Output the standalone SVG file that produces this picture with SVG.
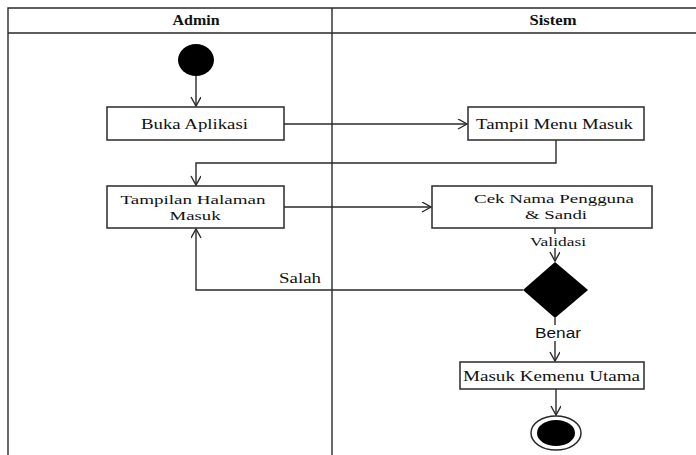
<svg xmlns="http://www.w3.org/2000/svg" width="696" height="455" viewBox="0 0 696 455">
<style>
.ln{fill:none;stroke:#2a2a2a;stroke-width:1.4}
.box{fill:#fff;stroke:#2a2a2a;stroke-width:1.5}
.t{font-family:"Liberation Serif","Times New Roman",serif;font-size:15px;fill:#111;text-anchor:middle}
.t2{font-size:13.5px}
.h{font-family:"Liberation Serif","Times New Roman",serif;font-size:14px;font-weight:bold;fill:#111;text-anchor:middle}
.s{font-family:"Liberation Sans",Arial,sans-serif;font-size:14px;fill:#111;text-anchor:middle}
</style>
<defs>
<marker id="ar" markerUnits="userSpaceOnUse" markerWidth="12" markerHeight="12" refX="10" refY="5" orient="auto">
<path d="M1,0 L10,5 L1,10" fill="none" stroke="#2a2a2a" stroke-width="1.4"/>
</marker>
</defs>
<rect width="696" height="455" fill="#fff"/>
<g id="lanes">
<path class="ln" d="M8,455 V8 H700 M8,33 H700 M332,8 V455"/>
<text class="h" x="196" y="25" textLength="47" lengthAdjust="spacingAndGlyphs">Admin</text>
<text class="h" x="553" y="25" textLength="47" lengthAdjust="spacingAndGlyphs">Sistem</text>
</g>
<g id="connectors">
<path class="ln" d="M196,74 V106" marker-end="url(#ar)"/>
<path class="ln" d="M284,124 H467" marker-end="url(#ar)"/>
<path class="ln" d="M556,140 V163 H196 V185" marker-end="url(#ar)"/>
<path class="ln" d="M284,207 H431" marker-end="url(#ar)"/>
<path class="ln" d="M555,228 V261" marker-end="url(#ar)"/>
<path class="ln" d="M523,290 H196 V229" marker-end="url(#ar)"/>
<path class="ln" d="M555,318 V361" marker-end="url(#ar)"/>
<path class="ln" d="M556,389 V415" marker-end="url(#ar)"/>
<rect x="529" y="234" width="58" height="14" fill="#fff"/>
<text class="t" x="558" y="246" style="font-size:13px" textLength="56" lengthAdjust="spacingAndGlyphs">Validasi</text>
<text class="t" x="300" y="283" style="font-size:14px" textLength="42" lengthAdjust="spacingAndGlyphs">Salah</text>
<rect x="534" y="325" width="48" height="16" fill="#fff"/>
<text class="s" x="558" y="338" textLength="46" lengthAdjust="spacingAndGlyphs">Benar</text>
</g>
<g id="start"><ellipse cx="196" cy="60" rx="18" ry="16" fill="#000"/></g>
<g id="buka">
<rect class="box" x="107" y="107" width="177" height="33"/>
<text class="t" x="194.5" y="129" textLength="107" lengthAdjust="spacingAndGlyphs">Buka Aplikasi</text>
</g>
<g id="tampilmenu">
<rect class="box" x="468" y="107" width="176" height="33"/>
<text class="t" x="554.5" y="129" textLength="157" lengthAdjust="spacingAndGlyphs">Tampil Menu Masuk</text>
</g>
<g id="tampilan">
<rect class="box" x="107" y="186" width="177" height="42"/>
<text class="t t2" x="193" y="204" textLength="145" lengthAdjust="spacingAndGlyphs">Tampilan Halaman</text>
<text class="t t2" x="195" y="220" textLength="51" lengthAdjust="spacingAndGlyphs">Masuk</text>
</g>
<g id="cek">
<rect class="box" x="432" y="186" width="220" height="42"/>
<text class="t t2" x="554" y="203" textLength="160" lengthAdjust="spacingAndGlyphs">Cek Nama Pengguna</text>
<text class="t t2" x="556" y="219" textLength="62" lengthAdjust="spacingAndGlyphs">&amp; Sandi</text>
</g>
<g id="decision"><polygon points="555,262 588,290 555,318 523,290" fill="#000"/></g>
<g id="masuk">
<rect class="box" x="460" y="362" width="184" height="27"/>
<text class="t" x="551.5" y="381" textLength="177" lengthAdjust="spacingAndGlyphs">Masuk Kemenu Utama</text>
</g>
<g id="end">
<ellipse cx="556" cy="433" rx="25" ry="17" fill="#fff" stroke="#2a2a2a" stroke-width="1.5"/>
<ellipse cx="556" cy="433" rx="19" ry="13" fill="#000"/>
</g>
</svg>
